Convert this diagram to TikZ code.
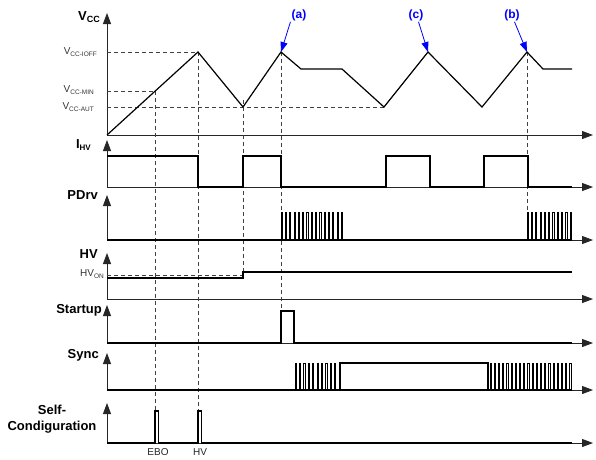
\documentclass[tikz,border=0pt]{standalone}
\usepackage{fontspec}
\setmainfont{Liberation Sans}
\usetikzlibrary{arrows.meta}
\begin{document}
\begin{tikzpicture}[x=1pt,y=1pt,
  axis/.style={line width=0.9pt, draw=black!85, -{Triangle[length=11pt,width=8pt]}},
  wave/.style={line width=1.2pt, line join=miter},
  pulse/.style={line width=0.75pt, line join=miter},
  guide/.style={dash pattern=on 4pt off 3pt, line width=0.7pt, draw=black!75},
  sig/.style={font=\fontsize{13}{13}\selectfont\bfseries, anchor=east, inner sep=0pt},
  lvl/.style={font=\fontsize{10}{10}\selectfont, text=black!80, anchor=east, inner sep=0pt},
  tag/.style={font=\fontsize{12}{12}\selectfont\bfseries, text=blue, inner sep=1pt},
  tagarrow/.style={draw=blue, line width=0.8pt, -{Triangle[length=10pt,width=7pt]}},
  foot/.style={font=\fontsize{10}{10}\selectfont, text=black!85, inner sep=0pt}
]
\useasboundingbox (0,0) rectangle (596,-459);

% ---------- axes ----------
\foreach \yt/\ya in {13/135,140/187,195/240,253/299,305/343,353/390,403/443}{
  \draw[axis] (107,-\ya) -- (107,-\yt);
  \draw[axis] (107,-\ya) -- (593,-\ya);
}

% ---------- dashed guides ----------
\draw[guide] (107,-52) -- (198,-52);
\draw[guide] (107,-91) -- (155,-91);
\draw[guide] (107,-107) -- (384,-107);
\draw[guide] (107,-275) -- (243,-275);
\draw[guide] (155,-91) -- (155,-411);
\draw[guide] (198,-52) -- (198,-411);
\draw[guide] (243,-100) -- (243,-272);
\draw[guide] (281,-52) -- (281,-311);
\draw[guide] (527,-52) -- (527,-212);

% ---------- Vcc ----------
\coordinate (pA) at (281,-52);
\coordinate (pC) at (428,-52);
\coordinate (pB) at (527,-52);
\draw[wave] (107,-135) -- (198,-52) -- (243,-107) -- (pA) -- (301,-69) -- (342,-69)
  -- (384,-107) -- (pC) -- (482,-107) -- (pB) -- (543,-69) -- (572,-69);

% ---------- I_HV ----------
\draw[wave] (107,-156) -- (198,-156) -- (198,-187) -- (243,-187) -- (243,-156) -- (281,-156)
  -- (281,-187) -- (386,-187) -- (386,-156) -- (430,-156) -- (430,-187) -- (484,-187)
  -- (484,-156) -- (528,-156) -- (528,-187) -- (572,-187);

% ---------- PDrv ----------
\draw[wave] (107,-240) -- (572,-240);
\foreach \i in {0,...,14}{
  \draw[pulse] (281+4.3*\i,-240) -- ++(0,28) -- ++(1.2,0) -- ++(0,-28);
}
\foreach \i in {0,...,10}{
  \draw[pulse] (527+4.3*\i,-240) -- ++(0,28) -- ++(1.2,0) -- ++(0,-28);
}

% ---------- HV ----------
\draw[wave] (107,-278) -- (243,-278) -- (243,-272) -- (572,-272);

% ---------- Startup ----------
\draw[wave] (107,-343) -- (281,-343) -- (281,-311) -- (294,-311) -- (294,-343) -- (572,-343);

% ---------- Sync ----------
\draw[wave] (107,-390) -- (572,-390);
\foreach \i in {0,...,9}{
  \draw[pulse] (295+4.4*\i,-390) -- ++(0,27) -- ++(1.2,0) -- ++(0,-27);
}
\draw[wave] (340,-390) -- (340,-363) -- (488,-363) -- (488,-390);
\foreach \i in {0,...,19}{
  \draw[pulse] (490+4.2*\i,-390) -- ++(0,27) -- ++(1.2,0) -- ++(0,-27);
}

% ---------- Self-configuration ----------
\draw[wave] (107,-443) -- (155,-443) -- (155,-411) -- (158.5,-411) -- (158.5,-443)
  -- (198,-443) -- (198,-411) -- (201.5,-411) -- (201.5,-443) -- (572,-443);

% ---------- labels ----------
\node[sig] (lvcc) at (100,-17) {V\raisebox{-0.35ex}{\fontsize{9}{9}\selectfont CC}};
\node[sig] (lihv) at (91,-145) {I\raisebox{-0.35ex}{\fontsize{8}{8}\selectfont HV}};
\node[sig] (lpdrv) at (98,-195) {PDrv};
\node[sig] (lhv) at (98,-254) {HV};
\node[sig] (lstart) at (102,-310) {Startup};
\node[sig] (lsync) at (99,-355) {Sync};
\node[font=\fontsize{13}{16}\selectfont\bfseries, align=center, inner sep=0pt] (lself) at (52,-419) {Self-\\Condiguration};

\node[lvl] (lioff) at (97,-52) {V\raisebox{-0.35ex}{\fontsize{6.5}{6.5}\selectfont CC-IOFF}};
\node[lvl] (lmin) at (94,-90) {V\raisebox{-0.35ex}{\fontsize{6.5}{6.5}\selectfont CC-MIN}};
\node[lvl] (laut) at (94,-107) {V\raisebox{-0.35ex}{\fontsize{6.5}{6.5}\selectfont CC-AUT}};
\node[lvl] (lhvon) at (104,-274) {HV\raisebox{-0.35ex}{\fontsize{6.5}{6.5}\selectfont ON}};

\node[foot] (lebo) at (158,-452) {EBO};
\node[foot] (lhvb) at (200,-452) {HV};

% ---------- markers ----------
\node[tag] (ta) at (299,-15) {(a)};
\node[tag] (tc) at (416,-15) {(c)};
\node[tag] (tb) at (512,-15) {(b)};
\draw[tagarrow] (ta.south west) -- (pA);
\draw[tagarrow] (tc.-70) -- (pC);
\draw[tagarrow] (tb.-70) -- (pB);
\end{tikzpicture}
\end{document}
